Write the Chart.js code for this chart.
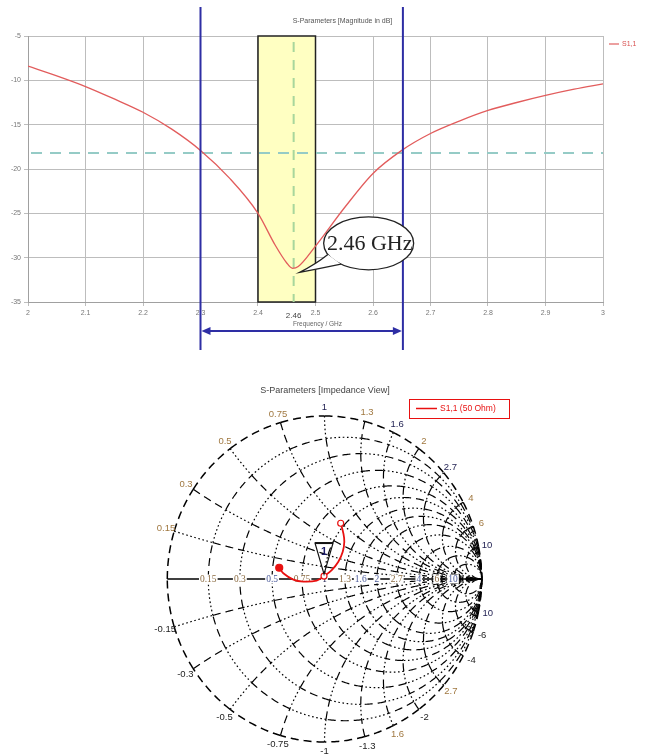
<!DOCTYPE html>
<html><head><meta charset="utf-8">
<script src="https://cdn.jsdelivr.net/npm/chart.js@4.4.1/dist/chart.umd.min.js"></script>
<style>
html,body{margin:0;padding:0;background:#fff;width:651px;height:754px;overflow:hidden;}
#c1{position:absolute;left:0;top:0;}
#c2{position:absolute;left:0;top:360px;}
</style></head><body>
<canvas id="c1" width="651" height="360"></canvas>
<canvas id="c2" width="651" height="394"></canvas>
<script>
// ---------- data: S11 magnitude ----------
const freqGHz = [2.00,2.05,2.10,2.15,2.20,2.25,2.30,2.35,2.40,2.43,2.45,2.46,2.47,2.50,2.55,2.60,2.65,2.70,2.75,2.80,2.85,2.90,2.95,3.00];
const s11dB   = [-8.4,-9.5,-10.7,-12.1,-13.6,-15.5,-17.9,-21.0,-25.0,-28.6,-30.6,-31.2,-31.0,-28.7,-24.4,-20.5,-17.9,-16.0,-14.6,-13.4,-12.5,-11.7,-11.0,-10.4];
const xTickValues = [2,2.1,2.2,2.3,2.4,2.5,2.6,2.7,2.8,2.9,3];
const xTickLabels = ['2','2.1','2.2','2.3','2.4','2.5','2.6','2.7','2.8','2.9','3'];
const yTickValues = [-5,-10,-15,-20,-25,-30,-35];
const yTickLabels = ['-5','-10','-15','-20','-25','-30','-35'];
const bandEdgesGHz = [2.3, 2.652];
const highlightBandGHz = [2.4, 2.5];
const resonanceGHz = 2.462;
const resonanceDB = -31.2;
const resonanceLabel = '2.46 GHz';
const resonanceTick = '2.46';
const thresholdDB = -18.2;
const topTitle = 'S-Parameters [Magnitude in dB]';
const topXTitle = 'Frequency / GHz';
const topLegend = 'S1,1';

// ---------- data: Smith chart ----------
const smithResistance = [0.15,0.3,0.5,0.75,1,1.3,1.6,2,2.7,4,6,10];
const smithReactance  = [0.15,0.3,0.5,0.75,1,1.3,1.6,2,2.7,4,6,10];
const smithRealLabels = ['0.15','0.3','0.5','0.75','1','1.3','1.6','2','2.7','4','6','10'];
const smithTopLabels  = ['0.15','0.3','0.5','0.75','1','1.3','1.6','2','2.7','4','6','10'];
const smithBottomLabels = ['-0.15','-0.3','-0.5','-0.75','-1','-1.3','1.6','-2','2.7','-4','-6','10'];
const s11Re = [-0.288,-0.262,-0.198,-0.135,-0.050,-0.003,0.046,0.088,0.116,0.126,0.120,0.103];
const s11Im = [0.069,0.035,-0.004,-0.016,-0.010,0.018,0.055,0.106,0.167,0.229,0.280,0.342];
const markerIndex = 5;
const markerLabel = '1';
const smithTitle = 'S-Parameters [Impedance View]';
const smithLegend = 'S1,1 (50 Ohm)';

// ---------- top chart ----------
const FONT = '"Liberation Sans", Arial, sans-serif';
const topDraw = {
  id: 'topDraw',
  beforeDatasetsDraw(chart) {
    const {ctx, chartArea: ca, scales: {x, y}} = chart;
    ctx.save();
    const bx1 = x.getPixelForValue(highlightBandGHz[0]), bx2 = x.getPixelForValue(highlightBandGHz[1]);
    const by1 = y.getPixelForValue(y.max), by2 = y.getPixelForValue(y.min);
    ctx.fillStyle = '#ffffc2';
    ctx.fillRect(bx1, by1, bx2 - bx1, by2 - by1);
    ctx.strokeStyle = '#222'; ctx.lineWidth = 1.5;
    ctx.strokeRect(bx1, by1, bx2 - bx1, by2 - by1);
    const ty = y.getPixelForValue(thresholdDB);
    ctx.setLineDash([11, 8]); ctx.strokeStyle = '#95cbc6'; ctx.lineWidth = 2;
    ctx.beginPath(); ctx.moveTo(ca.left + 3, ty); ctx.lineTo(ca.right, ty); ctx.stroke();
    const rx = x.getPixelForValue(resonanceGHz);
    ctx.setLineDash([10, 8]); ctx.strokeStyle = '#a8d69c'; ctx.lineWidth = 2;
    ctx.beginPath(); ctx.moveTo(rx, by1 + 6); ctx.lineTo(rx, by2); ctx.stroke();
    ctx.restore();
  },
  afterDatasetsDraw(chart) {
    const {ctx, chartArea: ca, scales: {x, y}} = chart;
    ctx.save();
    const e1 = x.getPixelForValue(bandEdgesGHz[0]), e2 = x.getPixelForValue(bandEdgesGHz[1]);
    ctx.strokeStyle = '#2e2ea4'; ctx.lineWidth = 2;
    ctx.beginPath();
    ctx.moveTo(e1, 7); ctx.lineTo(e1, 350);
    ctx.moveTo(e2, 7); ctx.lineTo(e2, 350);
    ctx.stroke();
    const ay = 331;
    ctx.beginPath(); ctx.moveTo(e1 + 6, ay); ctx.lineTo(e2 - 6, ay); ctx.lineWidth = 2.2; ctx.stroke();
    ctx.fillStyle = '#2e2ea4';
    ctx.beginPath(); ctx.moveTo(e1 + 1, ay); ctx.lineTo(e1 + 10, ay - 4); ctx.lineTo(e1 + 10, ay + 4); ctx.closePath(); ctx.fill();
    ctx.beginPath(); ctx.moveTo(e2 - 1, ay); ctx.lineTo(e2 - 10, ay - 4); ctx.lineTo(e2 - 10, ay + 4); ctx.closePath(); ctx.fill();
    const tipX = x.getPixelForValue(resonanceGHz) + 6, tipY = y.getPixelForValue(resonanceDB) + 4;
    const cx = tipX + 69, cy = tipY - 29, erx = 45, ery = 26.5;
    ctx.lineWidth = 1.3; ctx.strokeStyle = '#222'; ctx.fillStyle = '#fff';
    ctx.beginPath(); ctx.ellipse(cx, cy, erx, ery, 0, 0, Math.PI * 2); ctx.fill(); ctx.stroke();
    const a1 = 155 * Math.PI / 180, a2 = 128 * Math.PI / 180;
    const A = [cx + erx * Math.cos(a1), cy + ery * Math.sin(a1)];
    const B = [cx + erx * Math.cos(a2), cy + ery * Math.sin(a2)];
    ctx.beginPath();
    ctx.moveTo(A[0], A[1]);
    ctx.quadraticCurveTo(tipX + 16, tipY - 8, tipX, tipY);
    ctx.quadraticCurveTo(tipX + 22, tipY - 4, B[0], B[1]);
    ctx.closePath(); ctx.fill();
    ctx.beginPath();
    ctx.moveTo(A[0], A[1]);
    ctx.quadraticCurveTo(tipX + 16, tipY - 8, tipX, tipY);
    ctx.quadraticCurveTo(tipX + 22, tipY - 4, B[0], B[1]);
    ctx.stroke();
    ctx.fillStyle = '#222';
    ctx.font = '22px "Liberation Serif", "Times New Roman", serif';
    ctx.textAlign = 'center'; ctx.textBaseline = 'middle';
    ctx.fillText(resonanceLabel, cx + 1, cy + 1);
    ctx.font = '7px ' + FONT; ctx.fillStyle = '#555';
    ctx.fillText(topTitle, (ca.left + ca.right) / 2 + 27, 21);
    ctx.font = '6.5px ' + FONT; ctx.fillStyle = '#666';
    ctx.fillText(topXTitle, (ca.left + ca.right) / 2 + 2, 324);
    ctx.font = '8px ' + FONT; ctx.fillStyle = '#444';
    ctx.fillText(resonanceTick, x.getPixelForValue(resonanceGHz), 316);
    ctx.strokeStyle = '#e06060'; ctx.lineWidth = 1.2;
    ctx.beginPath(); ctx.moveTo(ca.right + 6, 44); ctx.lineTo(ca.right + 16, 44); ctx.stroke();
    ctx.fillStyle = '#d85050'; ctx.font = '7px ' + FONT; ctx.textAlign = 'left';
    ctx.fillText(topLegend, ca.right + 19, 44);
    ctx.restore();
  }
};

new Chart(document.getElementById('c1'), {
  type: 'line',
  data: {
    datasets: [{
      data: freqGHz.map((f, i) => ({x: f, y: s11dB[i]})),
      borderColor: '#e25c5c', borderWidth: 1.3, pointRadius: 0,
      cubicInterpolationMode: 'monotone', fill: false
    }]
  },
  options: {
    responsive: false, animation: false, devicePixelRatio: 1,
    layout: {padding: {left: 8, top: 36, right: 48, bottom: 38}},
    plugins: {legend: {display: false}, tooltip: {enabled: false}},
    scales: {
      x: {
        type: 'linear', min: 2, max: 3,
        afterBuildTicks: s => { s.ticks = xTickValues.map(v => ({value: v})); },
        afterFit: s => { s.height = 20; },
        ticks: {callback: (v, i) => xTickLabels[i], font: {family: FONT, size: 7}, color: '#777', padding: 3, maxRotation: 0},
        grid: {color: '#bdbdbd', tickLength: 4},
        border: {color: '#a0a0a0'}
      },
      y: {
        type: 'linear', min: -35, max: -5,
        afterBuildTicks: s => { s.ticks = yTickValues.map(v => ({value: v})); },
        afterFit: s => { s.width = 20; },
        ticks: {callback: (v, i) => yTickLabels[i], font: {family: FONT, size: 7}, color: '#777', padding: 3},
        grid: {color: '#bdbdbd', tickLength: 4},
        border: {color: '#a0a0a0'}
      }
    }
  },
  plugins: [topDraw]
});

// ---------- Smith chart ----------
function gam(r, x) {
  if (!isFinite(r) || !isFinite(x)) return [1, 0];
  const den = (r + 1) * (r + 1) + x * x;
  return [(r * r + x * x - 1) / den, 2 * x / den];
}
const labelStyle = {
  top: ['#a07840','#a07840','#a07840','#a07840','#1e1e50','#a07840','#1e1e50','#a07840','#1e1e50','#a07840','#a07840','#1e1e50'],
  bottom: ['#222','#222','#222','#222','#222','#222','#a07840','#222','#a07840','#222','#222','#1e1e50'],
  real: ['#8a6a40','#8a6a40','#4a5a9a','#8a6a40','#1e1e50','#8a6a40','#4a5a9a','#4a5a9a','#8a6a40','#4a5a9a','#8a6a40','#4a5a9a']
};
const smithDraw = {
  id: 'smithDraw',
  beforeDatasetsDraw(chart) {
    const {ctx, scales: {x: xs, y: ys}} = chart;
    const P = g => [xs.getPixelForValue(g[0]), ys.getPixelForValue(g[1])];
    const R = [0, ...smithResistance, Infinity];
    const X = [-Infinity, ...smithReactance.slice().reverse().map(v => -v), 0, ...smithReactance, Infinity];
    const lim = Math.PI / 2 - 1e-9;
    const at = v => Math.max(-lim, Math.min(lim, Math.atan(v)));
    ctx.save();
    ctx.strokeStyle = '#000';
    function seg(fn, a, b, style) {
      const A = at(a), B = at(b), n = 24;
      ctx.setLineDash(style === 'dash' ? [8, 5] : [1.6, 2.6]);
      ctx.beginPath();
      for (let k = 0; k <= n; k++) {
        const v = Math.tan(A + (B - A) * k / n);
        const p = P(fn(v));
        if (k === 0) ctx.moveTo(p[0], p[1]); else ctx.lineTo(p[0], p[1]);
      }
      ctx.stroke();
    }
    for (let i = 0; i < R.length - 1; i++) {
      const r = R[i];
      for (let j = 0; j < X.length - 1; j++) {
        const st = i === 0 ? 'dash' : ((i + j) % 2 ? 'dot' : 'dash');
        ctx.lineWidth = i === 0 ? 1.5 : 1.2;
        seg(v => gam(r, v), X[j], X[j + 1], st);
      }
    }
    ctx.lineWidth = 1.2;
    for (let j = 1; j < X.length - 1; j++) {
      const xv = X[j];
      if (xv === 0) continue;
      for (let i = 0; i < R.length - 1; i++) {
        const st = (i + j + 1) % 2 ? 'dot' : 'dash';
        seg(v => gam(v, xv), R[i], R[i + 1], st);
      }
    }
    ctx.setLineDash([]); ctx.lineWidth = 1.5;
    const L = P([-1, 0]), Rt = P([1, 0]);
    ctx.beginPath(); ctx.moveTo(L[0], L[1]); ctx.lineTo(Rt[0], Rt[1]); ctx.stroke();
    ctx.font = '9.5px "Liberation Serif", serif';
    ctx.textAlign = 'center'; ctx.textBaseline = 'middle';
    smithResistance.forEach((r, i) => {
      const p = P(gam(r, 0));
      const w = ctx.measureText(smithRealLabels[i]).width;
      ctx.fillStyle = '#fff';
      ctx.fillRect(p[0] - w / 2 - 1, p[1] - 4.5, w + 2, 9);
      ctx.fillStyle = labelStyle.real[i];
      ctx.fillText(smithRealLabels[i], p[0], p[1] + 0.5);
    });
    ctx.font = '9.5px ' + FONT;
    smithReactance.forEach((xv, i) => {
      const g = gam(0, xv);
      let p = P([g[0] * 1.055, g[1] * 1.055]);
      ctx.fillStyle = labelStyle.top[i];
      ctx.fillText(smithTopLabels[i], p[0], p[1]);
      const g2 = gam(0, -xv);
      p = P([g2[0] * 1.06, g2[1] * 1.06]);
      ctx.fillStyle = labelStyle.bottom[i];
      ctx.fillText(smithBottomLabels[i], p[0], p[1]);
    });
    ctx.restore();
  },
  afterDatasetsDraw(chart) {
    const {ctx, scales: {x: xs, y: ys}} = chart;
    ctx.save();
    const mx = xs.getPixelForValue(s11Re[markerIndex]), my = ys.getPixelForValue(s11Im[markerIndex]) - 2;
    ctx.strokeStyle = '#111'; ctx.lineWidth = 1.2; ctx.setLineDash([]);
    ctx.beginPath(); ctx.moveTo(mx, my); ctx.lineTo(mx - 9, my - 31); ctx.lineTo(mx + 9, my - 31); ctx.closePath(); ctx.stroke();
    ctx.lineWidth = 2;
    ctx.beginPath(); ctx.moveTo(mx - 9, my - 31); ctx.lineTo(mx + 9, my - 31); ctx.stroke();
    ctx.fillStyle = '#1a1a66'; ctx.font = 'bold 11px ' + FONT;
    ctx.textAlign = 'center'; ctx.textBaseline = 'middle';
    ctx.fillText(markerLabel, mx, my - 22);
    ctx.fillStyle = '#444'; ctx.font = '9px ' + FONT;
    ctx.fillText(smithTitle, 325, 31);
    ctx.strokeStyle = '#e81010'; ctx.lineWidth = 1; ctx.fillStyle = '#fff';
    ctx.fillRect(409, 39, 100, 19); ctx.strokeRect(409.5, 39.5, 100, 19);
    ctx.lineWidth = 1.5;
    ctx.beginPath(); ctx.moveTo(416, 48.5); ctx.lineTo(437, 48.5); ctx.stroke();
    ctx.fillStyle = '#e81010'; ctx.textAlign = 'left'; ctx.font = '8.5px ' + FONT;
    ctx.fillText(smithLegend, 440, 49);
    ctx.restore();
  }
};

const lastIdx = s11Re.length - 1;
new Chart(document.getElementById('c2'), {
  type: 'scatter',
  data: {
    datasets: [{
      data: s11Re.map((v, i) => ({x: v, y: s11Im[i]})),
      showLine: true, borderColor: '#e81010', borderWidth: 1.8, tension: 0.4,
      pointRadius: c => c.dataIndex === 0 ? 3.5 : ((c.dataIndex === markerIndex || c.dataIndex === lastIdx) ? 3 : 0),
      pointBackgroundColor: c => c.dataIndex === 0 ? '#e81010' : '#fff',
      pointBorderColor: '#e81010', pointBorderWidth: 1.2
    }]
  },
  options: {
    responsive: false, animation: false, devicePixelRatio: 1,
    layout: {padding: {left: 167.3, right: 169.3, top: 56, bottom: 12}},
    plugins: {legend: {display: false}, tooltip: {enabled: false}},
    scales: {
      x: {type: 'linear', min: -1, max: 1, display: false},
      y: {type: 'linear', min: -1, max: 1, display: false}
    }
  },
  plugins: [smithDraw]
});
</script>
</body></html>
